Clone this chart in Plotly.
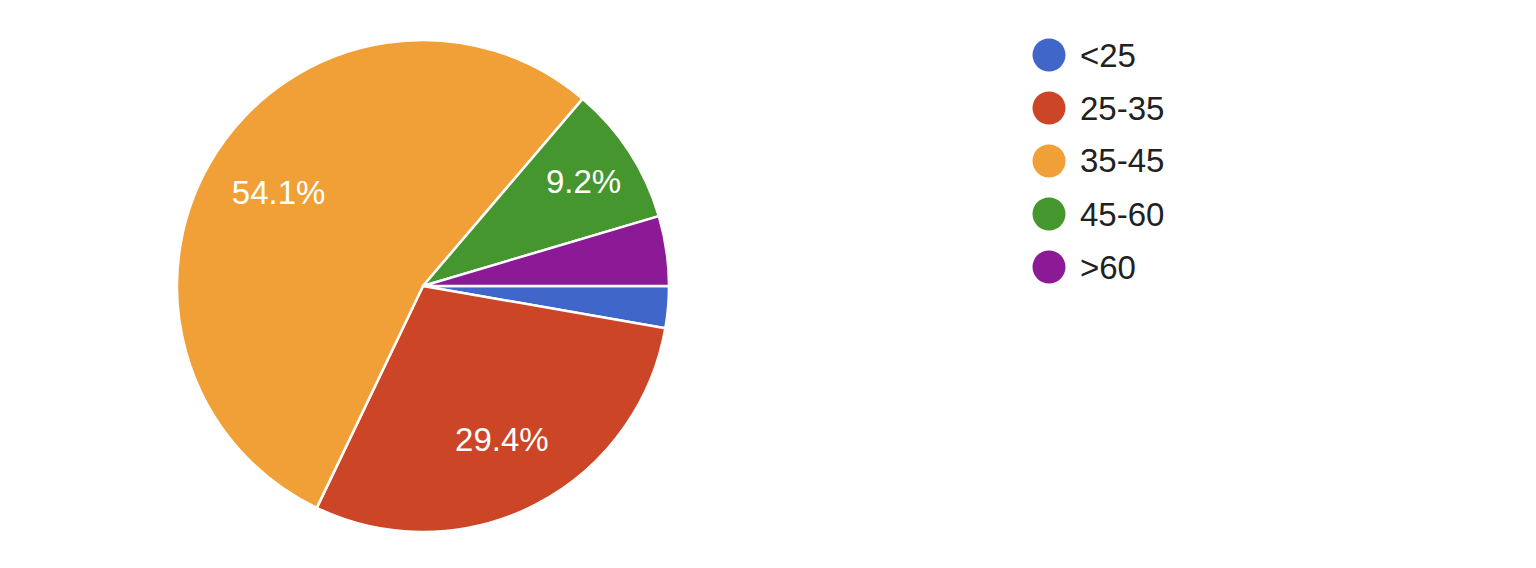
import plotly.graph_objects as go

categories = ["<25", "25-35", "35-45", "45-60", ">60"]
counts = [3, 32, 59, 10, 5]
colors = ["#4066C9", "#CC4526", "#F19F37", "#46962F", "#8C1995"]
show_label = [False, True, True, True, False]

W, H = 1536, 568
OFF = 8  # page body margin
FONT = "Liberation Sans, Arial, sans-serif"

# pie bounding box in page pixels
px0, px1, py0, py1 = 177 - OFF, 669 - OFF, 40 - OFF, 532 - OFF
dom = dict(x=[px0 / W, px1 / W], y=[1 - py1 / H, 1 - py0 / H])

fig = go.Figure()
fig.add_trace(go.Pie(
    labels=categories,
    values=counts,
    sort=False,
    direction="clockwise",
    rotation=90,
    marker=dict(colors=colors, line=dict(color="white", width=2.5)),
    textinfo="none",
    domain=dom,
    showlegend=False,
    hoverinfo="label+percent",
))
# transparent ring trace to place percentage labels further out
fig.add_trace(go.Pie(
    labels=categories,
    values=counts,
    sort=False,
    direction="clockwise",
    rotation=90,
    hole=0.40,
    marker=dict(colors=["rgba(0,0,0,0)"] * len(categories), line=dict(width=0)),
    texttemplate=["%{percent:.1%}" if s else "" for s in show_label],
    textposition="inside",
    insidetextorientation="horizontal",
    textfont=dict(family=FONT, size=33, color="white"),
    domain=dom,
    showlegend=False,
    hoverinfo="skip",
))

# Legend drawn with circles (Google Forms style)
lx, ly0, dy, r = 1049 - OFF, 55 - OFF, 53, 16.5
for i, (cat, col) in enumerate(zip(categories, colors)):
    cy = ly0 + i * dy
    fig.add_shape(type="circle", xref="paper", yref="paper",
                  x0=(lx - r) / W, x1=(lx + r) / W,
                  y0=1 - (cy + r) / H, y1=1 - (cy - r) / H,
                  fillcolor=col, line=dict(width=0))
    fig.add_annotation(xref="paper", yref="paper", x=(1078 - OFF) / W, y=1 - cy / H,
                       text=cat, showarrow=False, xanchor="left", yanchor="middle",
                       font=dict(family=FONT, size=33, color="#212121"))

fig.update_layout(
    width=W, height=H,
    margin=dict(l=0, r=0, t=0, b=0),
    paper_bgcolor="white",
    plot_bgcolor="white",
    font=dict(family=FONT),
)

fig.write_html("out.html")
